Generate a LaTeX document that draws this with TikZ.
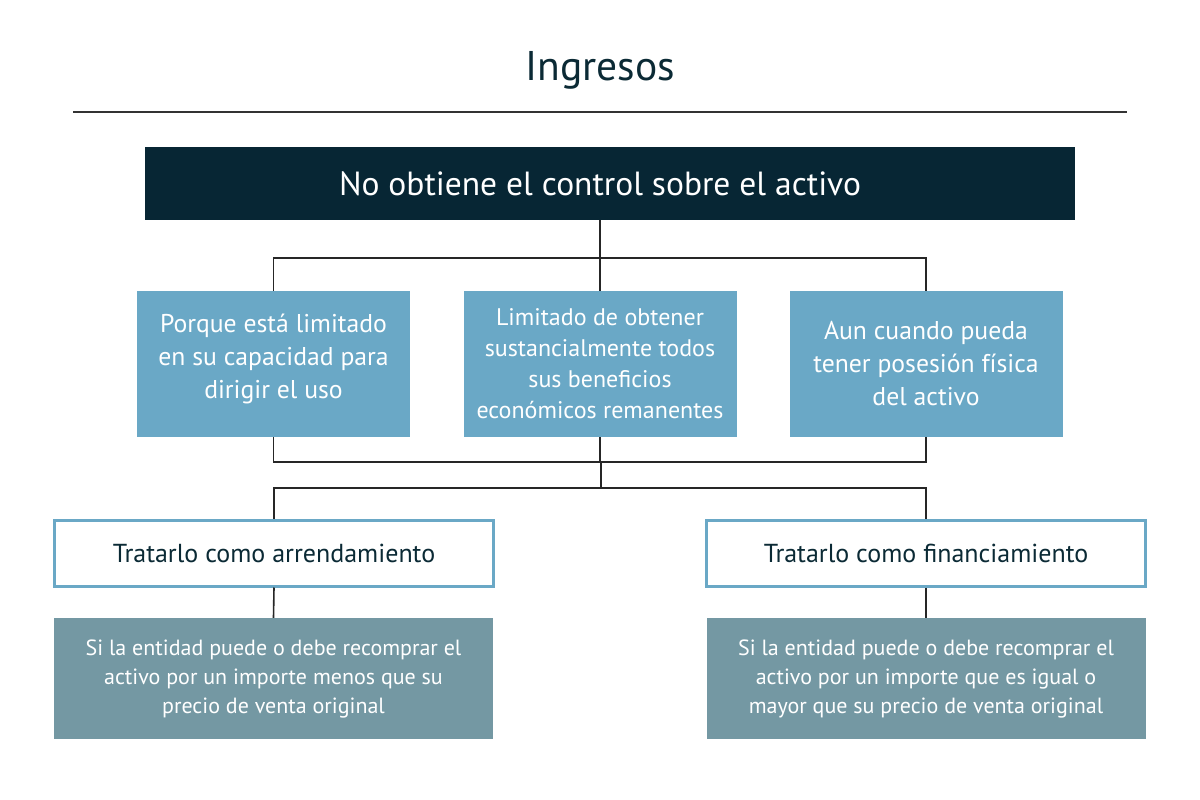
\documentclass[tikz,border=0pt]{standalone}
\usepackage{fontspec}
\setmainfont{PT Sans}
\definecolor{navy}{HTML}{072634}
\definecolor{sky}{HTML}{6AA8C6}
\definecolor{slate}{HTML}{7498A3}
\definecolor{titlec}{HTML}{0B2A35}
\begin{document}
\begin{tikzpicture}[x=1pt,y=-1pt,
  conn/.style={line width=1.6pt,draw=black!85},
  topbox/.style={fill=navy,minimum width=930pt,minimum height=73pt,inner sep=0pt},
  toptext/.style={text=white,inner sep=0pt,font=\fontsize{33.5}{38}\selectfont},
  midbox/.style={fill=sky,minimum width=273pt,minimum height=146pt,inner sep=0pt},
  midtext/.style={text=white,inner sep=0pt,align=center},
  treatbox/.style={fill=white,draw=sky,line width=3pt,text=titlec,minimum width=439pt,minimum height=66pt,inner sep=0pt,font=\fontsize{26}{30}\selectfont},
  condbox/.style={fill=slate,text=white,minimum width=439pt,minimum height=121pt,inner sep=0pt,align=center,font=\fontsize{22}{29}\selectfont}
]
\useasboundingbox (0,0) rectangle (1200,800);
\fill[white] (0,0) rectangle (1200,800);
\node[text=titlec,font=\fontsize{41.5}{48}\selectfont] (title) at (600,70) {Ingresos};
\coordinate (ruleL) at (73,112);
\coordinate (ruleR) at (1127,112);
\draw[line width=1.8pt,draw=black!80] (ruleL) -- (ruleR);

\node[topbox,label={[toptext,xshift=-10pt]center:No obtiene el control sobre el activo}] (top) at (610,183.5) {};

\node[midbox,label={[midtext,font=\fontsize{25.7}{33}\selectfont,yshift=5pt]center:Porque está limitado\\en su capacidad para\\dirigir el uso}] (m1) at (273.5,364) {};
\node[midbox,label={[midtext,font=\fontsize{24}{31}\selectfont]center:Limitado de obtener\\sustancialmente todos\\sus beneficios\\económicos remanentes}] (m2) at (600,364) {};
\node[midbox,label={[midtext,font=\fontsize{25.7}{33}\selectfont]center:Aun cuando pueda\\tener posesión física\\del activo}] (m3) at (926,364) {};

\node[treatbox] (t1) at (274,553) {Tratarlo como arrendamiento};
\node[treatbox] (t2) at (926,553) {Tratarlo como financiamiento};

\node[condbox] (c1) at (273.5,678.5) {Si la entidad puede o debe recomprar el\\activo por un importe menos que su\\precio de venta original};
\node[condbox] (c2) at (926,678.5) {Si la entidad puede o debe recomprar el\\activo por un importe que es igual o\\mayor que su precio de venta original};

\coordinate (bus1) at (600,258);
\coordinate (bus2) at (601,462);
\coordinate (bus3) at (601,488);

\draw[conn] (m2.north |- top.south) -- (m2.north);
\draw[conn] (m1.north) |- (bus1) -| (m3.north);
\draw[conn] (m1.south) |- (bus2) -| (m3.south);
\draw[conn] (m2.south) -- (m2.south |- bus2);
\draw[conn] (bus2) -- (bus3);
\draw[conn] (t1.north) |- (bus3) -| (t2.north);
\draw[conn] (t1.south) -- (c1.north);
\draw[conn] (t2.south) -- (c2.north);
\end{tikzpicture}
\end{document}
